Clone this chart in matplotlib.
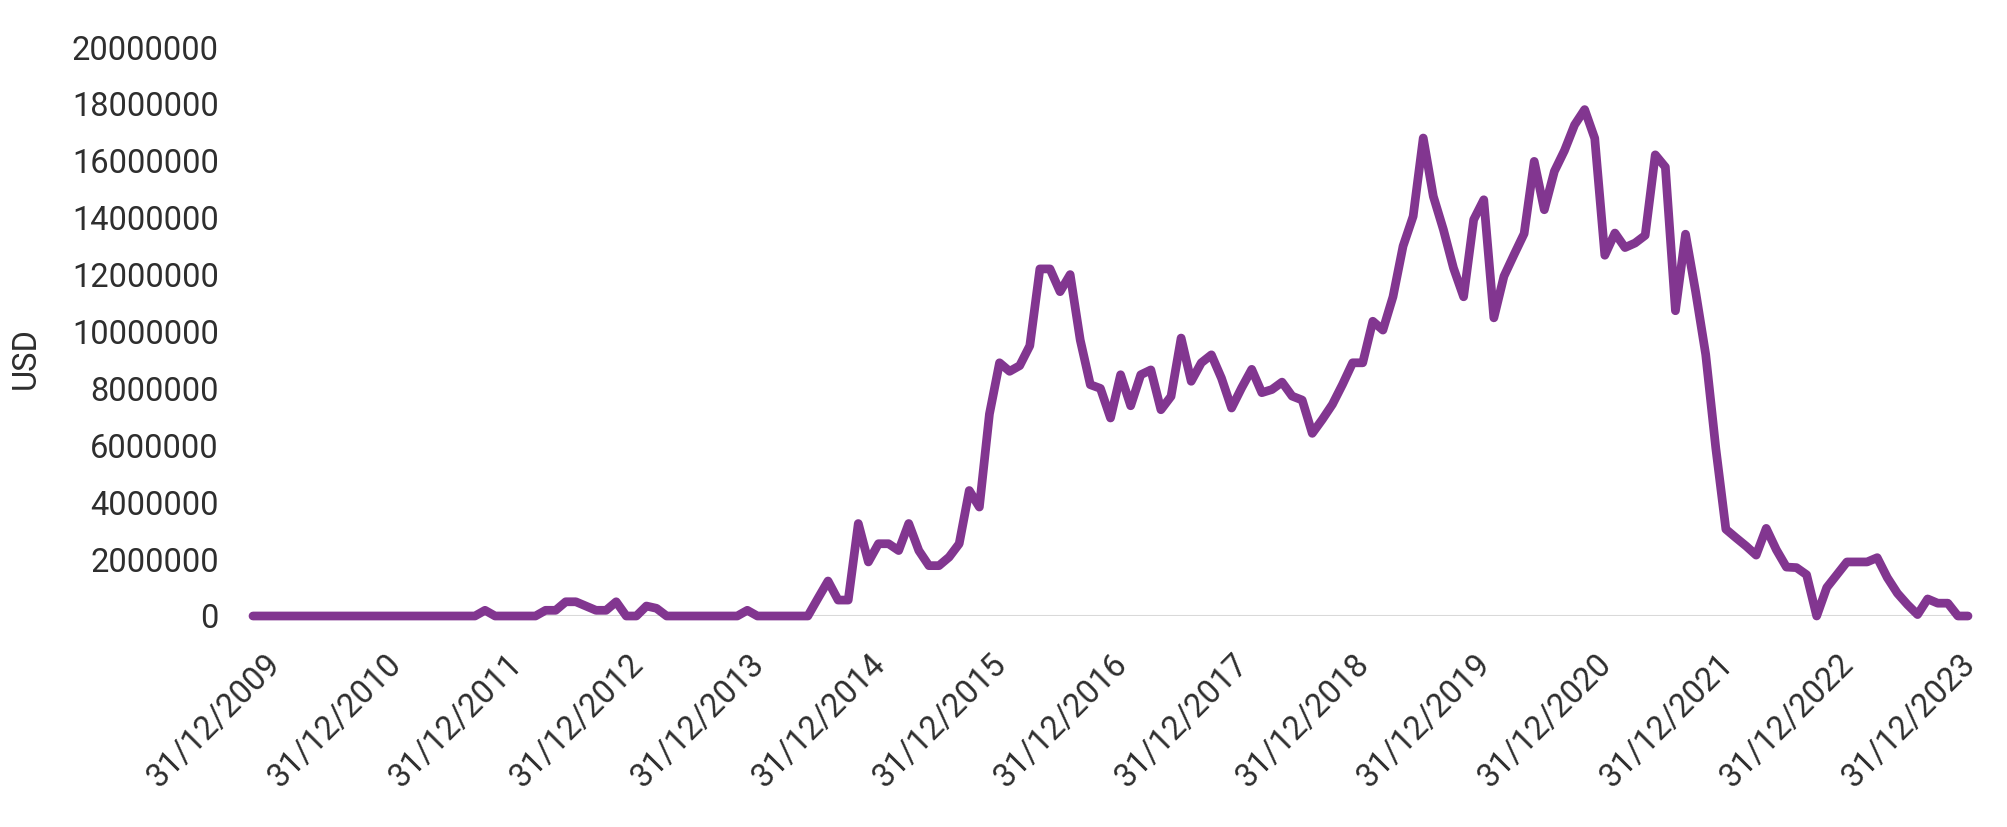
import matplotlib
matplotlib.use("Agg")
import matplotlib.pyplot as plt
import matplotlib.transforms as mtransforms
import numpy as np
import pandas as pd

# Monthly values in millions of USD, starting 31/12/2009
values_musd = [
    0, 0, 0, 0, 0, 0, 0, 0, 0, 0, 0, 0,
    0, 0, 0, 0, 0, 0, 0, 0, 0, 0, 0, 0.2,
    0, 0, 0, 0, 0, 0.2, 0.2, 0.5, 0.5, 0.35, 0.2, 0.2,
    0.5, 0, 0, 0.35, 0.27, 0, 0, 0, 0, 0, 0, 0,
    0, 0.2, 0, 0, 0, 0, 0, 0, 0.62, 1.23, 0.56, 0.56,
    3.25, 1.9, 2.54, 2.54, 2.3, 3.25, 2.3, 1.77, 1.77, 2.07, 2.54, 4.41,
    3.83, 7.1, 8.9, 8.6, 8.8, 9.5, 12.2, 12.2, 11.4, 12.0, 9.7, 8.13,
    8.0, 6.96, 8.48, 7.39, 8.48, 8.65, 7.25, 7.72, 9.77, 8.25, 8.9, 9.18,
    8.36, 7.31, 8.02, 8.67, 7.85, 7.96, 8.22, 7.73, 7.59, 6.42, 6.91, 7.44,
    8.14, 8.9, 8.9, 10.36, 10.05, 11.22, 13.0, 14.05, 16.8, 14.75, 13.58, 12.23,
    11.22, 13.93, 14.63, 10.48, 11.94, 12.7, 13.44, 15.98, 14.28, 15.63, 16.36, 17.26,
    17.8, 16.79, 12.68, 13.46, 12.95, 13.11, 13.38, 16.21, 15.78, 10.73, 13.42, 11.4,
    9.19, 5.9, 3.05, 2.75, 2.46, 2.14, 3.08, 2.33, 1.72, 1.7, 1.45, 0,
    1.0, 1.45, 1.9, 1.9, 1.9, 2.05, 1.35, 0.8, 0.4, 0.05, 0.6, 0.45,
    0.45, 0, 0,
]
start_date = "2009-12-31"
y_ticks = list(range(0, 20000001, 2000000))
y_label = "USD"

dates = pd.date_range(start_date, periods=len(values_musd), freq="ME")
date_labels = list(dates.strftime("%d/%m/%Y"))
values = np.array(values_musd) * 1e6
x = np.arange(len(values))

plt.rcParams["font.family"] = ["Roboto", "DejaVu Sans"]
plt.rcParams["font.weight"] = "normal"

fig = plt.figure(figsize=(20.08, 8.27), dpi=100)
ax = fig.add_axes([253 / 2008, 211 / 827, (1968 - 253) / 2008, (616 - 47) / 827])

ax.axhline(0, color="#d9d9d9", lw=2.2, zorder=1)
ax.plot(x, values, color="#823690", lw=6.3, solid_joinstyle="round",
        solid_capstyle="round", clip_on=False, zorder=3)

ax.set_xlim(0, len(values) - 1)
ax.set_ylim(0, 20e6)
for s in ax.spines.values():
    s.set_visible(False)

text_color = "#2e2e2e"
fs = 23.5
ax.set_yticks(y_ticks)
ax.set_yticklabels([str(v) for v in y_ticks])
ax.tick_params(axis="y", length=0, pad=24.5, labelsize=fs, labelcolor=text_color)

tick_idx = x[::12]
ax.set_xticks(tick_idx)
ax.set_xticklabels([date_labels[i] for i in tick_idx], rotation=45, ha="right",
                   va="top", rotation_mode="anchor")
ax.tick_params(axis="x", length=0, pad=23, labelsize=fs, labelcolor=text_color)
offset = mtransforms.ScaledTranslation(11 / 100, 0, fig.dpi_scale_trans)
for lab in ax.get_xticklabels():
    lab.set_transform(lab.get_transform() + offset)

fig.text(26 / 2008, 1 - 358 / 827, y_label, rotation=90, ha="center", va="center",
         fontsize=fs, color=text_color)

fig.savefig("out.png", dpi=100, facecolor="white")
